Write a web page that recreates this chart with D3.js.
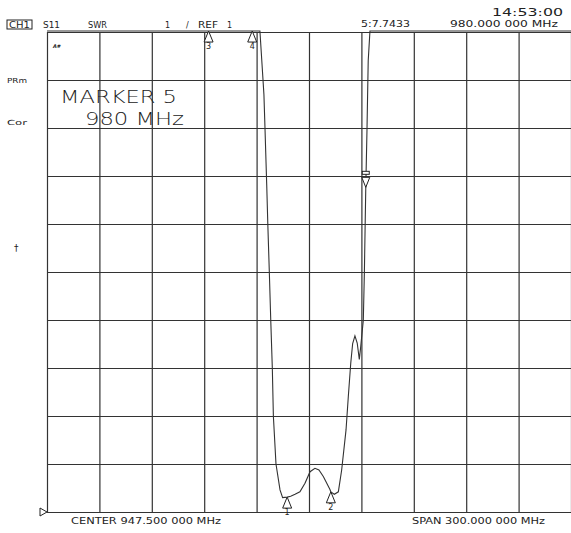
<!DOCTYPE html>
<html>
<head>
<meta charset="utf-8">
<title>S11 SWR</title>
<style>
	body { margin: 0; background: #fff; }
	svg text { font-family: "DejaVu Sans", sans-serif; fill: #222; }
	.grid line, .grid path { stroke: #333; stroke-width: 1.2; }
</style>
</head>
<body>
<svg id="chart" width="571" height="533"></svg>
<script src="https://d3js.org/d3.v7.min.js"></script>
<script>
"use strict";

// sweep (MHz) and grid
var gridFreq = [797.5, 827.5, 857.5, 887.5, 917.5, 947.5, 977.5, 1007.5, 1037.5, 1067.5, 1097.5];
var gridSwr = [1, 2, 3, 4, 5, 6, 7, 8, 9, 10, 11];

// trace (values above 11 are off screen)
var freqMHz = [797.5, 830, 860, 890, 915, 919.4, 921.0, 921.7, 922.3, 923.3, 923.9, 924.8, 925.6,
	926.5, 927.1, 928.6, 930.9, 932.4, 935.0, 937.0, 939.5, 942.3, 945.2, 948.1, 950.9, 953.2,
	955.7, 959.5, 960.0, 962.0, 964.3, 966.2, 968.7, 970.0, 971.4, 972.5, 973.8, 975.1, 976.3,
	977.1, 978.6, 979.2, 979.6, 980.0, 980.7, 981.4, 982.4, 1000, 1040, 1070, 1097.5];
var swr = [14, 15, 16, 15, 13, 11.02, 10.1, 9.69, 9.0, 7.81, 7.02, 5.98, 5.0,
	4.0, 3.0, 2.0, 1.46, 1.30, 1.31, 1.33, 1.37, 1.42, 1.60, 1.84, 1.91, 1.875,
	1.74, 1.47, 1.42, 1.37, 1.42, 1.875, 2.71, 3.40, 4.10, 4.51, 4.67, 4.52, 4.18,
	4.44, 5.0, 5.98, 6.875, 7.7433, 8.96, 10.4, 11.02, 14, 16, 15, 14];

// markers
var markerName = ["1", "2", "3", "4", "5"];
var markerFreq = [935, 960, 890, 915, 980];
var markerSwr = [1.31, 1.42, 15, 13, 7.7433];

var svg = d3.select("#chart");
var x = d3.scaleLinear().domain([797.5, 1097.5]).range([47, 571]);
var y = d3.scaleLinear().domain([1, 11]).range([512, 32]);
var yTrace = y.copy().domain([1, 11.02]).range([y(1), y(11.02)]).clamp(true);

// graticule
svg.append("g").attr("class", "grid")
	.attr("transform", "translate(0," + y(1) + ")")
	.call(d3.axisBottom(x).tickValues(gridFreq).tickSize(-(y(1) - y(11))).tickFormat(""))
	.select(".domain").remove();
svg.append("g").attr("class", "grid")
	.attr("transform", "translate(" + x(797.5) + ",0)")
	.call(d3.axisLeft(y).tickValues(gridSwr).tickSize(-(x(1097.5) - x(797.5))).tickFormat(""))
	.select(".domain").remove();

// trace
var line = d3.line()
	.x(function(d){ return x(d[0]); })
	.y(function(d){ return yTrace(d[1]); });
svg.append("path")
	.datum(d3.zip(freqMHz, swr))
	.attr("d", line)
	.attr("fill", "none")
	.attr("stroke", "#333")
	.attr("stroke-width", 1.1);

// markers
markerName.forEach(function(name, i){
	var mx = x(markerFreq[i]), my = yTrace(markerSwr[i]);
	var g = svg.append("g").attr("transform", "translate(" + mx + "," + my + ")");
	if (name === "5") {
		g.append("path").attr("d", "M-4,-11L4,-11L0,-1Z").attr("fill", "#fff").attr("stroke", "#222").attr("stroke-width", 1);
		g.append("rect").attr("x", -3.5).attr("y", -17).attr("width", 7).attr("height", 3).attr("fill", "#fff").attr("stroke", "#222").attr("stroke-width", 1);
	} else {
		g.append("path").attr("d", "M0,0L4.5,11L-4.5,11Z").attr("fill", "#fff").attr("stroke", "#222").attr("stroke-width", 1);
		g.append("text").attr("x", 0).attr("y", 18).attr("text-anchor", "middle")
			.attr("font-size", 8).text(name);
	}
});

// reference position
svg.append("path").attr("d", "M" + (x(797.5) - 7) + "," + (y(1) - 4) + "l7,4l-7,4z")
	.attr("fill", "#fff").attr("stroke", "#222").attr("stroke-width", 1);

// annotations
function label(tx, ty, s, size, len) {
	var t = svg.append("text").attr("x", tx).attr("y", ty).attr("font-size", size).text(s);
	if (len) t.attr("textLength", len).attr("lengthAdjust", "spacingAndGlyphs");
	return t;
}
svg.append("rect").attr("x", 7).attr("y", 20).attr("width", 25).attr("height", 9)
	.attr("fill", "none").attr("stroke", "#222").attr("stroke-width", 1);
label(9, 28, "CH1", 8, 21);
label(43, 28, "S11", 8, 17);
label(88, 28, "SWR", 8, 19);
label(165, 28, "1", 8);
label(186, 28, "/", 8);
label(198, 28, "REF", 8, 20);
label(227, 28, "1", 8);
label(361, 27, "5:7.7433", 8, 49);
label(450, 27, "980.000 000 MHz", 8, 108);
label(492, 16, "14:53:00", 11, 71);
label(7, 83, "PRm", 7, 20);
label(7, 125, "Cor", 7, 20);
label(14, 251, "\u2020", 9);
label(53, 48, "A#", 5).attr("font-style", "italic").attr("font-weight", "bold");
label(60, 103, "MARKER 5", 17, 117).attr("font-weight", 200);
label(85, 125, "980 MHz", 17, 99).attr("font-weight", 200);
label(71, 524, "CENTER  947.500 000 MHz", 8, 150);
label(412, 524, "SPAN  300.000 000 MHz", 8, 133);
</script>
</body>
</html>
